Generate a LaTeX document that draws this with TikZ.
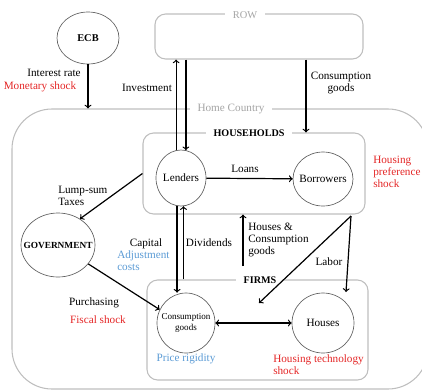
\documentclass[tikz,border=0pt]{standalone}
\usepackage{fontspec}
\setmainfont{Liberation Serif}
\usetikzlibrary{shapes.geometric,fit}

\definecolor{shockred}{RGB}{228,38,38}
\definecolor{costblue}{RGB}{91,155,213}
\definecolor{boxgray}{RGB}{190,190,190}
\definecolor{titlegray}{RGB}{165,165,165}
\definecolor{agentgray}{RGB}{95,95,95}

\begin{document}
\begin{tikzpicture}[x=0.75pt,y=-0.75pt,
    agent/.style={ellipse,draw=agentgray,line width=0.5pt,inner xsep=-5pt,inner ysep=0pt,font=\fontsize{8.4}{9}\selectfont},
    sector/.style={draw=boxgray,line width=0.8pt,rounded corners=8pt,inner sep=0pt},
    title/.style={fill=white,inner xsep=6pt,inner ysep=1pt,font=\fontsize{7.6}{8}\selectfont\bfseries},
    flow/.style={->,line width=0.9pt},
    lbl/.style={inner sep=0pt,font=\fontsize{8.4}{8.8}\selectfont},
    shock/.style={lbl,text=shockred},
    friction/.style={lbl,text=costblue}]

        \clip (0,0) rectangle (422,390);

        %sector boxes
        \coordinate (hc1) at (12,109);
        \coordinate (hc2) at (428,389);
        \node[sector,rounded corners=30pt,fit=(hc1)(hc2)] (home) {};
        \coordinate (row1) at (155,14);
        \coordinate (row2) at (363,59);
        \node[sector,fit=(row1)(row2)] (row) {};
        \coordinate (hh1) at (143,133);
        \coordinate (hh2) at (365,214);
        \node[sector,fit=(hh1)(hh2)] (households) {};
        \coordinate (fi1) at (147,280);
        \coordinate (fi2) at (368,380);
        \node[sector,fit=(fi1)(fi2)] (firms) {};

        \node[title,font=\fontsize{7.8}{8}\selectfont,text=titlegray] (rowtitle) at (245,15) {ROW};
        \node[title,font=\fontsize{8.4}{9}\selectfont,text=titlegray] (hometitle) at (231,109) {Home Country};
        \node[title] (hhtitle) at (249,133) {HOUSEHOLDS};
        \node[title] (firmstitle) at (260,280) {FIRMS};

        %agents
        \node[agent,minimum width=46.5pt,minimum height=39pt,font=\fontsize{7.8}{8}\selectfont\bfseries] (ecb) at (88,38) {ECB};
        \node[agent,minimum width=37.5pt,minimum height=42pt] (lenders) at (181,178) {Lenders};
        \node[agent,minimum width=45pt,minimum height=40.5pt] (borrowers) at (323,179) {Borrowers};
        \node[agent,minimum width=55.5pt,minimum height=48pt,inner xsep=-7pt,font=\fontsize{7}{8}\selectfont\bfseries] (government) at (58,245) {GOVERNMENT};
        \node[agent,minimum width=43.5pt,minimum height=45pt,align=center,font=\fontsize{6.8}{7.6}\selectfont] (cgoods) at (186,323) {Consumption\\goods};
        \node[agent,minimum width=46.5pt,minimum height=45pt] (houses) at (323,323) {Houses};

        %flow labels
        \node[lbl] (irate) at (54,73) {Interest rate};
        \node[shock] (monshock) at (40,87) {Monetary shock};
        \node[lbl] (invest) at (147,88) {Investment};
        \node[lbl,align=center] (cgimport) at (341,83) {Consumption\\goods};
        \node[lbl] (loans) at (245,169) {Loans};
        \node[shock,align=left,anchor=west] (prefshock) at (373,172) {Housing\\preference\\shock};
        \node[lbl,align=left,anchor=west] (taxes) at (58,196) {Lump-sum\\Taxes};
        \node[lbl] (capital) at (146,244) {Capital};
        \node[friction,align=left,anchor=west] (adjcost) at (117,261) {Adjustment\\costs};
        \node[lbl] (divid) at (209,243) {Dividends};
        \node[lbl,align=left,anchor=west] (hcgoods) at (248,240) {Houses \&\\Consumption\\goods};
        \node[lbl] (labor) at (329,262) {Labor};
        \node[lbl] (purch) at (94,303) {Purchasing};
        \node[shock] (fiscal) at (98,320) {Fiscal shock};
        \node[friction] (pricerig) at (186,359) {Price rigidity};
        \node[shock,align=left,anchor=west] (techshock) at (273,365) {Housing technology\\shock};

        %flows
        \draw[flow] (ecb) -- (ecb |- home.north);
        \draw[flow] (lenders.100) -- (lenders.100 |- row.south);
        \draw[flow] (lenders.80 |- row.south) -- (lenders.80);
        \coordinate (cgin) at (306,59);
        \draw[flow] (cgin |- row.south) -- (cgin |- households.north);
        \draw[flow] (lenders) -- (borrowers);
        \draw[flow] (households.west) -- (government.50);
        \draw[flow] (government.-32) -- (cgoods.153);
        \draw[flow] (lenders.262) -- (lenders.262 |- cgoods.north);
        \draw[flow] (lenders.275 |- firms.north) -- (lenders.275);
        \coordinate (hcgfrom) at (243,266);
        \draw[flow] (hcgfrom) -- (hcgfrom |- households.south);
        \coordinate (laborfrom) at (351,216);
        \coordinate (laborfirm) at (259,303);
        \coordinate (laborhouse) at (346,292);
        \draw[flow] (laborfrom) -- (laborfirm);
        \draw[flow] (laborfrom) -- (laborhouse);
        \draw[flow,<->] (cgoods) -- (houses);

\end{tikzpicture}
\end{document}
